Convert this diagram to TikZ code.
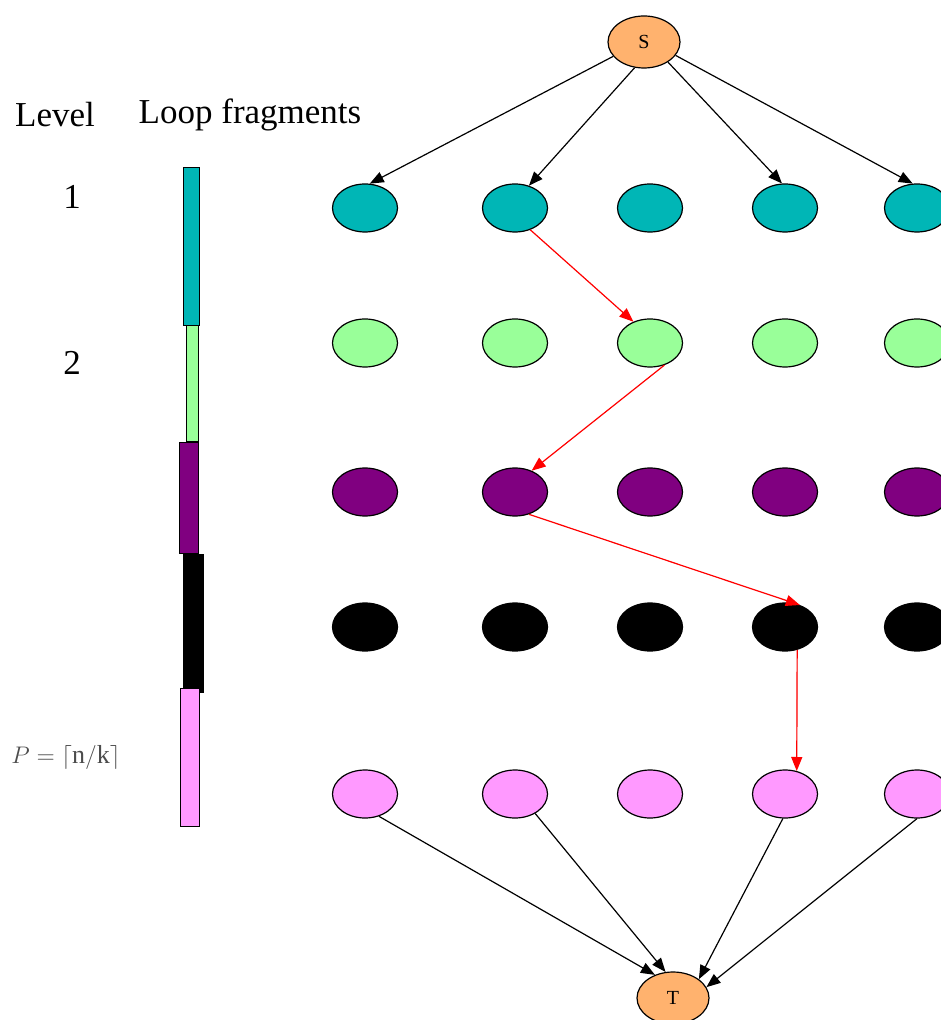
\documentclass[tikz,border=0pt]{standalone}
\usepackage{fontspec}
\setmainfont{Liberation Serif}
\usepackage{xcolor}
\usepackage{tikz}
\usetikzlibrary{
  arrows.meta,
  shapes.geometric
}
\definecolor{tealfrag}{RGB}{0,182,182}
\definecolor{greenfrag}{RGB}{153,255,153}
\definecolor{purplefrag}{RGB}{128,0,128}
\definecolor{pinkfrag}{RGB}{255,153,255}
\definecolor{endorange}{RGB}{255,178,110}
\tikzset{
  cell/.style={
    ellipse,
    draw=black,
    line width=0.6pt,
    minimum width=32.5pt,
    minimum height=24pt,
    inner sep=0pt
  },
  tealcell/.style={cell,fill=tealfrag},
  greencell/.style={cell,fill=greenfrag},
  purplecell/.style={cell,fill=purplefrag},
  blackcell/.style={cell,fill=black},
  pinkcell/.style={cell,fill=pinkfrag},
  endcell/.style={cell,fill=endorange,minimum width=36pt,minimum height=26pt,font=\fontsize{10}{12}\selectfont},
  treearrow/.style={-{Triangle[length=7pt,width=5.5pt]},line width=0.6pt,draw=black},
  patharrow/.style={-{Triangle[length=7pt,width=5.5pt]},line width=0.6pt,draw=red,fill=red},
  fragbar/.style={draw=black,line width=0.5pt},
  headlabel/.style={font=\fontsize{17.5}{21}\selectfont}
}

\begin{document}
\begin{tikzpicture}[x=0.5pt,y=-0.5pt]
  \useasboundingbox (0,0) rectangle (940,1020);
  % labels on the left
  \node[headlabel] (lvl) at (55,115) {Level};
  \node[headlabel] (frag) at (250,115) {Loop fragments};
  \node[headlabel] (one) at (72,197) {1};
  \node[headlabel] (two) at (72,363) {2};
  \node[font=\fontsize{13}{16}\selectfont,text=black!70] (pcount) at (66,757) {$P=\lceil\mathrm{n/k}\rceil$};

  % fragment bars
  \filldraw[fragbar,fill=tealfrag] (183,168) rectangle (199,326);
  \filldraw[fragbar,fill=greenfrag] (186,326) rectangle (198,442);
  \filldraw[fragbar,fill=purplefrag] (179,443) rectangle (198,553);
  \filldraw[fragbar,fill=black] (183,554) rectangle (203,692);
  \filldraw[fragbar,fill=pinkfrag] (180,688) rectangle (199,826);

  % source and sink
  \node[endcell] (S) at (644,42) {S};
  \node[endcell] (T) at (673,998) {T};

  % level rows
  \node[tealcell] (a1) at (365,208) {};
  \node[tealcell] (a2) at (515,208) {};
  \node[tealcell] (a3) at (650,208) {};
  \node[tealcell] (a4) at (785,208) {};
  \node[tealcell] (a5) at (917,208) {};

  \node[greencell] (b1) at (365,343) {};
  \node[greencell] (b2) at (515,343) {};
  \node[greencell] (b3) at (650,343) {};
  \node[greencell] (b4) at (785,343) {};
  \node[greencell] (b5) at (917,343) {};

  \node[purplecell] (c1) at (365,492) {};
  \node[purplecell] (c2) at (515,492) {};
  \node[purplecell] (c3) at (650,492) {};
  \node[purplecell] (c4) at (785,492) {};
  \node[purplecell] (c5) at (917,492) {};

  \node[blackcell] (d1) at (365,627) {};
  \node[blackcell] (d2) at (515,627) {};
  \node[blackcell] (d3) at (650,627) {};
  \node[blackcell] (d4) at (785,627) {};
  \node[blackcell] (d5) at (917,627) {};

  \node[pinkcell] (e1) at (365,794) {};
  \node[pinkcell] (e2) at (515,794) {};
  \node[pinkcell] (e3) at (650,794) {};
  \node[pinkcell] (e4) at (785,794) {};
  \node[pinkcell] (e5) at (917,794) {};

  % edges out of S
  \draw[treearrow] (S.-155)--(a1.79);
  \draw[treearrow] (S.-110)--(a2.58);
  \draw[treearrow] (S.-40)--(a4.97);
  \draw[treearrow] (S.-23)--(a5.100);

  % chosen path
  \draw[patharrow] (a2.-55)--(b3.128);
  \draw[patharrow] (b3.-57)--(c2.52);
  \draw[patharrow] (c2.-58)--(d4.56);
  \draw[patharrow] (d4.-62)--(e4.63);

  % edges into T
  \draw[treearrow] (e1.-58)--(T.128);
  \draw[treearrow] (e2.-44)--(T.106);
  \draw[treearrow] (e4.-95)--(T.36);
  \draw[treearrow] (e5.-90)--(T.18);
\end{tikzpicture}
\end{document}
